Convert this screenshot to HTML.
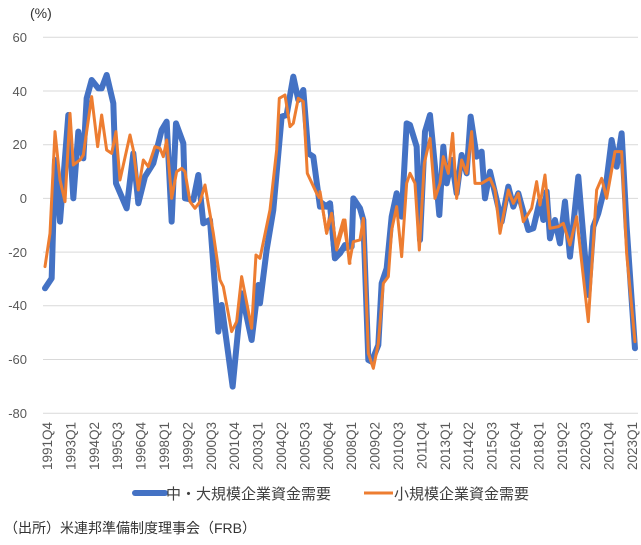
<!DOCTYPE html>
<html><head><meta charset="utf-8"><style>
body{margin:0;background:#fff;width:641px;height:545px;overflow:hidden;font-family:"Liberation Sans","Noto Sans CJK JP",sans-serif;}
svg{display:block}
</style></head><body>
<svg width="641" height="545" viewBox="0 0 641 545" xmlns="http://www.w3.org/2000/svg" font-family="Liberation Sans, Noto Sans CJK JP, sans-serif">
<g stroke="#d9d9d9" stroke-width="1">
<line x1="43" x2="638" y1="37.3" y2="37.3"/><line x1="43" x2="638" y1="91" y2="91"/><line x1="43" x2="638" y1="144.7" y2="144.7"/><line x1="43" x2="638" y1="198.4" y2="198.4"/><line x1="43" x2="638" y1="252.1" y2="252.1"/><line x1="43" x2="638" y1="305.8" y2="305.8"/><line x1="43" x2="638" y1="359.5" y2="359.5"/><line x1="43" x2="638" y1="413.2" y2="413.2"/>
</g>
<g font-size="13" fill="#595959" text-anchor="end">
<text x="27" y="42">60</text><text x="27" y="96">40</text><text x="27" y="149">20</text><text x="27" y="203">0</text><text x="27" y="257">-20</text><text x="27" y="310">-40</text><text x="27" y="364">-60</text><text x="27" y="418">-80</text>
</g>
<text x="30" y="18" font-size="14" fill="#333">(%)</text>
<g fill="none" stroke-linejoin="round" stroke-linecap="round">
<g transform="translate(30,20) scale(0.3333)">
<polyline vector-effect="non-scaling-stroke" stroke="#4472c4" stroke-width="6" points="45,805 65,775 75,420 90,605 115,285 130,535 145,335 160,415 170,235 185,180 205,205 215,205 230,165 250,250 258,490 290,565 310,400 325,550 345,470 370,430 395,330 410,305 425,605 438,310 460,370 465,535 490,540 505,465 520,610 540,600 565,935 575,855 608,1100 635,820 665,960 685,795 690,850 710,690 730,570 755,290 770,285 790,170 805,240 820,210 835,400 850,410 870,560 885,560 900,550 915,715 940,685 960,680"/>
<polyline vector-effect="non-scaling-stroke" stroke="#ed7d31" stroke-width="3" points="45,740 60,640 75,335 90,480 105,545 120,280 130,435 150,420 160,405 185,230 203,380 215,285 230,390 245,400 258,335 270,480 300,345 310,390 325,510 340,420 355,440 375,380 390,385 400,410 410,360 425,535 440,455 455,445 465,455 480,545 495,565 510,545 525,495 550,640 570,780 580,800 605,935 620,905 635,770 665,925 678,705 690,715 720,570 740,390 748,235 765,225 780,320 790,310 805,235 820,245 832,460 860,520 875,545 890,640 900,580 915,690 940,600 960,730"/>
</g>
<g transform="translate(320,20) scale(0.3333)">
<polyline vector-effect="non-scaling-stroke" stroke="#4472c4" stroke-width="6" points="0,545 20,560 30,550 45,715 60,700 75,675 95,680 100,535 120,565 130,600 145,1020 155,1025 175,975 185,790 200,745 215,590 230,520 245,590 260,310 270,315 290,380 300,660 315,335 330,285 345,440 358,585 370,380 380,490 395,420 410,520 425,405 440,460 452,290 470,410 485,395 495,535 510,455 530,540 545,605 565,500 580,560 595,520 625,630 640,625 660,540 670,600 680,515 690,655 705,600 720,670 735,545 750,710 775,470 805,825 820,620 835,580 860,480 875,360 890,440 905,340 920,620 945,985"/>
<polyline vector-effect="non-scaling-stroke" stroke="#ed7d31" stroke-width="3" points="0,515 20,640 35,580 50,690 75,600 88,730 100,665 120,660 130,595 145,1000 160,1045 175,970 190,790 205,770 215,630 230,560 245,710 260,490 270,460 285,490 298,690 313,430 330,355 345,535 360,490 370,410 385,460 398,340 410,535 425,420 440,460 455,335 465,490 485,490 510,475 525,510 540,640 565,510 580,550 595,520 610,605 635,565 650,485 660,555 675,465 690,625 715,620 730,610 750,675 770,590 805,905 830,510 845,475 860,535 885,395 905,395 920,700 945,965"/>
</g>
</g>
<g font-size="13.5" fill="#595959" text-anchor="end">
<text transform="translate(52,422) rotate(-90)">1991Q4</text>
<text transform="translate(75.4,422) rotate(-90)">1993Q1</text>
<text transform="translate(98.8,422) rotate(-90)">1994Q2</text>
<text transform="translate(122.2,422) rotate(-90)">1995Q3</text>
<text transform="translate(145.6,422) rotate(-90)">1996Q4</text>
<text transform="translate(169,422) rotate(-90)">1998Q1</text>
<text transform="translate(192.4,422) rotate(-90)">1999Q2</text>
<text transform="translate(215.8,422) rotate(-90)">2000Q3</text>
<text transform="translate(239.2,422) rotate(-90)">2001Q4</text>
<text transform="translate(262.6,422) rotate(-90)">2003Q1</text>
<text transform="translate(286,422) rotate(-90)">2004Q2</text>
<text transform="translate(309.4,422) rotate(-90)">2005Q3</text>
<text transform="translate(332.8,422) rotate(-90)">2006Q4</text>
<text transform="translate(356.2,422) rotate(-90)">2008Q1</text>
<text transform="translate(379.6,422) rotate(-90)">2009Q2</text>
<text transform="translate(403,422) rotate(-90)">2010Q3</text>
<text transform="translate(426.4,422) rotate(-90)">2011Q4</text>
<text transform="translate(449.8,422) rotate(-90)">2013Q1</text>
<text transform="translate(473.2,422) rotate(-90)">2014Q2</text>
<text transform="translate(496.6,422) rotate(-90)">2015Q3</text>
<text transform="translate(520,422) rotate(-90)">2016Q4</text>
<text transform="translate(543.4,422) rotate(-90)">2018Q1</text>
<text transform="translate(566.8,422) rotate(-90)">2019Q2</text>
<text transform="translate(590.2,422) rotate(-90)">2020Q3</text>
<text transform="translate(613.6,422) rotate(-90)">2021Q4</text>
<text transform="translate(637,422) rotate(-90)">2023Q1</text>
</g>
<line x1="135" x2="165" y1="493" y2="493" stroke="#4472c4" stroke-width="6" stroke-linecap="round"/>
<text x="166" y="499" font-size="15" fill="#404040">中・大規模企業資金需要</text>
<line x1="364" x2="393" y1="493" y2="493" stroke="#ed7d31" stroke-width="3"/>
<text x="394" y="499" font-size="15" fill="#404040">小規模企業資金需要</text>
<text x="4" y="533" font-size="14" fill="#333">（出所）米連邦準備制度理事会（FRB）</text>
</svg>
</body></html>
